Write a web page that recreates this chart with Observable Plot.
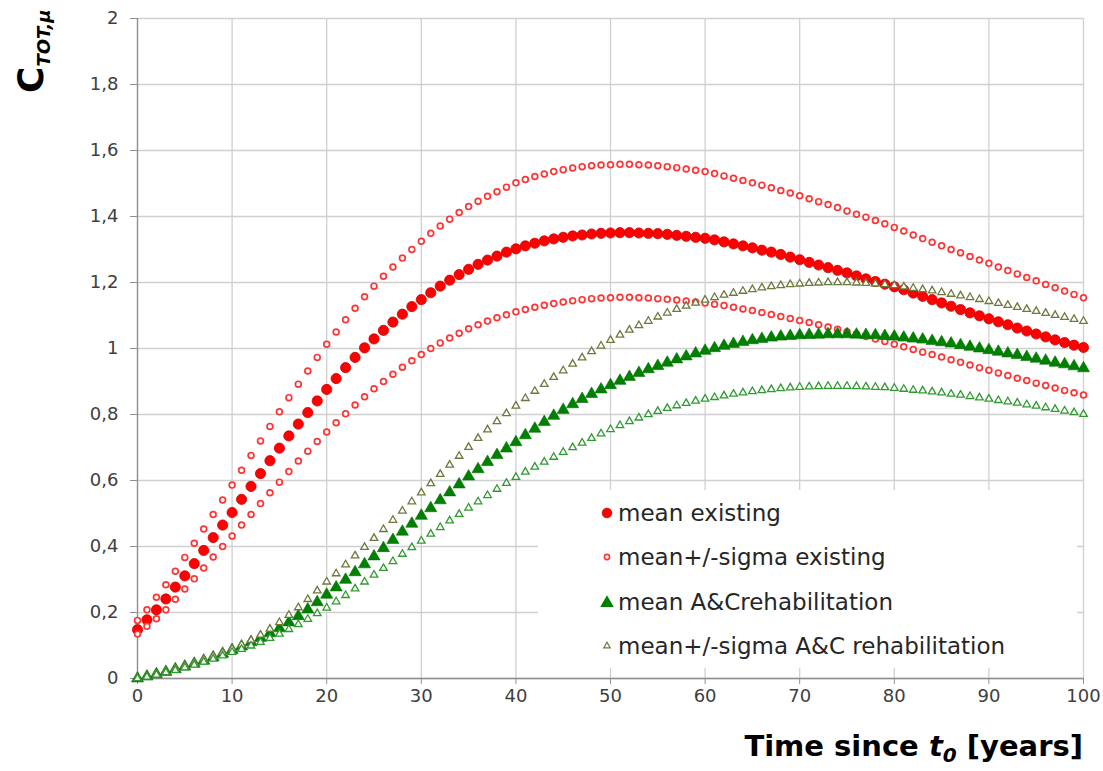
<!DOCTYPE html>
<html>
<head>
<meta charset="utf-8">
<script src="https://cdn.jsdelivr.net/npm/d3@7"></script>
<script src="https://cdn.jsdelivr.net/npm/@observablehq/plot@0.6"></script>
<style>
  html, body { margin: 0; padding: 0; background: #ffffff; overflow: hidden; }
  #chart { width: 1103px; height: 771px; }
</style>
</head>
<body>
<div id="chart"></div>
<script>
// ---------- data ----------
const years = Array.from({length: 101}, (_, i) => i);

const meanExisting = [
  0.148,0.178,0.208,0.241,0.277,0.311,0.348,0.388,0.427,0.465,
  0.503,0.543,0.582,0.621,0.660,0.698,0.735,0.771,0.806,0.841,
  0.876,0.909,0.942,0.973,1.002,1.029,1.055,1.080,1.104,1.127,
  1.148,1.169,1.189,1.207,1.224,1.240,1.255,1.268,1.280,1.292,
  1.302,1.311,1.319,1.326,1.332,1.337,1.341,1.344,1.347,1.349,
  1.350,1.351,1.351,1.350,1.349,1.348,1.346,1.343,1.340,1.337,
  1.334,1.329,1.323,1.317,1.311,1.305,1.298,1.292,1.285,1.277,
  1.269,1.261,1.253,1.245,1.237,1.229,1.220,1.211,1.203,1.195,
  1.187,1.178,1.168,1.158,1.148,1.138,1.128,1.118,1.108,1.099,
  1.090,1.081,1.072,1.062,1.053,1.044,1.035,1.026,1.018,1.010,
  1.003
];
const upperExisting = [
  0.176,0.208,0.246,0.284,0.325,0.367,0.410,0.453,0.497,0.541,
  0.586,0.631,0.676,0.720,0.764,0.808,0.851,0.892,0.932,0.973,
  1.013,1.050,1.087,1.122,1.157,1.189,1.219,1.247,1.274,1.300,
  1.325,1.349,1.371,1.392,1.412,1.430,1.446,1.461,1.475,1.489,
  1.502,1.512,1.521,1.529,1.536,1.542,1.547,1.551,1.554,1.556,
  1.557,1.558,1.558,1.557,1.556,1.554,1.551,1.548,1.544,1.540,
  1.536,1.530,1.523,1.516,1.509,1.502,1.495,1.487,1.479,1.471,
  1.463,1.454,1.445,1.436,1.427,1.417,1.407,1.398,1.388,1.378,
  1.367,1.356,1.344,1.333,1.322,1.311,1.300,1.290,1.279,1.268,
  1.258,1.247,1.236,1.226,1.215,1.205,1.194,1.184,1.174,1.164,
  1.154
];
const lowerExisting = [
  0.135,0.158,0.181,0.208,0.240,0.271,0.302,0.335,0.368,0.400,
  0.432,0.465,0.497,0.530,0.563,0.595,0.627,0.659,0.689,0.718,
  0.747,0.775,0.802,0.829,0.854,0.878,0.900,0.922,0.943,0.963,
  0.982,1.000,1.017,1.032,1.046,1.060,1.072,1.083,1.093,1.102,
  1.111,1.118,1.125,1.131,1.136,1.141,1.145,1.148,1.151,1.153,
  1.154,1.155,1.155,1.154,1.153,1.151,1.149,1.147,1.144,1.141,
  1.138,1.134,1.130,1.125,1.120,1.115,1.109,1.103,1.097,1.091,
  1.085,1.079,1.072,1.065,1.058,1.051,1.044,1.036,1.029,1.021,
  1.013,1.005,0.997,0.989,0.982,0.974,0.966,0.958,0.950,0.942,
  0.934,0.926,0.918,0.910,0.903,0.895,0.888,0.880,0.873,0.866,
  0.859
];
const meanAC = [
  0.000,0.006,0.013,0.020,0.028,0.036,0.045,0.054,0.064,0.075,
  0.086,0.097,0.110,0.123,0.137,0.152,0.170,0.189,0.209,0.231,
  0.254,0.276,0.299,0.322,0.346,0.370,0.395,0.420,0.445,0.469,
  0.493,0.516,0.540,0.564,0.588,0.612,0.634,0.656,0.677,0.697,
  0.716,0.737,0.757,0.777,0.796,0.814,0.831,0.847,0.862,0.876,
  0.889,0.902,0.914,0.926,0.937,0.947,0.957,0.967,0.976,0.985,
  0.993,1.001,1.008,1.014,1.020,1.025,1.029,1.033,1.036,1.038,
  1.040,1.041,1.042,1.043,1.043,1.043,1.042,1.041,1.040,1.038,
  1.036,1.033,1.030,1.027,1.023,1.019,1.015,1.010,1.005,1.000,
  0.995,0.990,0.985,0.980,0.974,0.969,0.963,0.957,0.952,0.946,
  0.940
];
const upperAC = [
  0.000,0.006,0.013,0.021,0.030,0.039,0.048,0.058,0.068,0.079,
  0.090,0.102,0.116,0.132,0.150,0.170,0.192,0.215,0.240,0.266,
  0.293,0.318,0.345,0.372,0.398,0.425,0.452,0.480,0.508,0.536,
  0.563,0.591,0.619,0.647,0.674,0.701,0.728,0.754,0.779,0.803,
  0.826,0.849,0.871,0.892,0.913,0.933,0.953,0.972,0.991,1.008,
  1.025,1.041,1.056,1.070,1.083,1.096,1.108,1.119,1.129,1.138,
  1.147,1.155,1.162,1.168,1.174,1.179,1.184,1.188,1.191,1.194,
  1.196,1.198,1.199,1.200,1.200,1.200,1.199,1.198,1.196,1.194,
  1.191,1.187,1.183,1.179,1.175,1.170,1.165,1.160,1.155,1.149,
  1.143,1.137,1.131,1.125,1.119,1.113,1.107,1.101,1.095,1.089,
  1.083
];
const lowerAC = [
  0.000,0.005,0.011,0.018,0.025,0.033,0.041,0.050,0.059,0.069,
  0.080,0.089,0.099,0.110,0.122,0.135,0.149,0.164,0.180,0.197,
  0.214,0.233,0.252,0.272,0.293,0.314,0.334,0.355,0.377,0.397,
  0.417,0.438,0.458,0.478,0.498,0.517,0.536,0.555,0.574,0.592,
  0.610,0.626,0.641,0.656,0.671,0.686,0.700,0.714,0.728,0.742,
  0.755,0.767,0.779,0.790,0.800,0.810,0.819,0.827,0.834,0.841,
  0.847,0.852,0.857,0.862,0.866,0.870,0.873,0.876,0.879,0.881,
  0.883,0.884,0.885,0.886,0.886,0.886,0.885,0.884,0.883,0.882,
  0.880,0.877,0.874,0.872,0.869,0.866,0.862,0.859,0.855,0.851,
  0.847,0.843,0.839,0.835,0.830,0.826,0.821,0.816,0.811,0.806,
  0.801
];

const xTicks = [0, 10, 20, 30, 40, 50, 60, 70, 80, 90, 100];
const yTicks = [0, 0.2, 0.4, 0.6, 0.8, 1, 1.2, 1.4, 1.6, 1.8, 2];
const yTickLabels = ["0", "0,2", "0,4", "0,6", "0,8", "1", "1,2", "1,4", "1,6", "1,8", "2"];

const legendLabels = [
  "mean existing",
  "mean+/-sigma existing",
  "mean A&Crehabilitation",
  "mean+/-sigma A&C rehabilitation"
];

// ---------- build ----------
const rows = arr => years.map((t, i) => ({t, v: arr[i]}));
const FONT = "DejaVu Sans";

const chart = Plot.plot({
  width: 1103,
  height: 771,
  marginLeft: 137,
  marginRight: 20,
  marginTop: 18,
  marginBottom: 93,
  style: {fontFamily: FONT, fontSize: "18px", color: "#404040", background: "#ffffff"},
  x: {domain: [0, 100], label: null},
  y: {domain: [0, 2], label: null},
  marks: [
    Plot.gridX(xTicks, {stroke: "#d0d0d0", strokeOpacity: 1, strokeWidth: 1.3}),
    Plot.gridY(yTicks, {stroke: "#d0d0d0", strokeOpacity: 1, strokeWidth: 1.3}),
    Plot.ruleX([0], {stroke: "#8f8f8f", strokeWidth: 1.3}),
    Plot.ruleY([0], {stroke: "#8f8f8f", strokeWidth: 1.3}),
    Plot.axisX(xTicks, {tickSize: 6, tickPadding: 5, stroke: "#8f8f8f", fill: "#404040",
      tickFormat: d => String(d), label: null}),
    Plot.axisY(yTicks, {tickSize: 7, tickPadding: 12, stroke: "#8f8f8f", fill: "#404040",
      tickFormat: d => yTickLabels[yTicks.findIndex(v => Math.abs(v - d) < 1e-9)], label: null}),
    Plot.dot(rows(meanExisting), {x: "t", y: "v", r: 5.1, fill: "#ff0000", stroke: "#d00000", strokeWidth: 0.8}),
    Plot.dot(rows(upperExisting), {x: "t", y: "v", r: 2.9, fill: "#ffffff", stroke: "#ff3535", strokeWidth: 1.7}),
    Plot.dot(rows(lowerExisting), {x: "t", y: "v", r: 2.9, fill: "#ffffff", stroke: "#ff3535", strokeWidth: 1.7}),
    Plot.dot(rows(meanAC), {x: "t", y: "v", r: 4.5, symbol: "triangle", fill: "#008000", stroke: "#007000", strokeWidth: 0.6}),
    Plot.dot(rows(upperAC), {x: "t", y: "v", r: 2.8, symbol: "triangle", fill: "#ffffff", stroke: "#6b7a3c", strokeWidth: 1.3}),
    Plot.dot(rows(lowerAC), {x: "t", y: "v", r: 2.8, symbol: "triangle", fill: "#ffffff", stroke: "#2f9a2f", strokeWidth: 1.3})
  ]
});

document.getElementById("chart").appendChild(chart);

// ---------- legend, axis titles ----------
const svgEl = chart.tagName.toLowerCase() === "svg" ? chart : chart.querySelector("svg");
const svg = d3.select(svgEl);

const lg = svg.append("g").attr("class", "legend").attr("text-anchor", "start");
lg.append("rect").attr("x", 538).attr("y", 490).attr("width", 539).attr("height", 178)
  .attr("fill", "#ffffff").attr("stroke", "none").style("fill", "#ffffff");
const rowY = [513, 557, 602, 646];
const mx = 607;
lg.append("circle").attr("cx", mx).attr("cy", rowY[0]).attr("r", 4.8).attr("fill", "#ff0000").attr("stroke", "#d00000").attr("stroke-width", 0.8);
lg.append("circle").attr("cx", mx).attr("cy", rowY[1]).attr("r", 2.6).attr("fill", "#ffffff").attr("stroke", "#ff3535").attr("stroke-width", 1.6);
lg.append("path").attr("transform", `translate(${mx},${rowY[2] + 1})`)
  .attr("d", d3.symbol(d3.symbolTriangle, 80)()).attr("fill", "#008000");
lg.append("path").attr("transform", `translate(${mx},${rowY[3]})`)
  .attr("d", d3.symbol(d3.symbolTriangle, 18)()).attr("fill", "#ffffff").attr("stroke", "#6b7a3c").attr("stroke-width", 1.2);
legendLabels.forEach((lab, i) => {
  lg.append("text").attr("x", 618).attr("y", rowY[i]).attr("dy", "0.36em").attr("text-anchor", "start")
    .attr("font-family", FONT).attr("font-size", 23).attr("fill", "#262626").text(lab);
});

// x axis title: Time since t0 [years]
const xt = svg.append("text").attr("x", 1083).attr("y", 756).attr("text-anchor", "end")
  .attr("font-family", FONT).attr("font-weight", "bold").attr("font-size", 29).attr("fill", "#000000");
xt.append("tspan").text("Time since ");
xt.append("tspan").attr("font-style", "italic").text("t");
xt.append("tspan").attr("font-style", "italic").attr("font-size", 20).attr("dy", 6).text("0");
xt.append("tspan").attr("dy", -6).text(" [years]");

// y axis title: C_TOT,μ
const yt = svg.append("text").attr("transform", "translate(43,93) rotate(-90)").attr("text-anchor", "start")
  .attr("font-family", FONT).attr("font-weight", "bold").attr("fill", "#000000");
yt.append("tspan").attr("font-size", 36).text("C");
yt.append("tspan").attr("font-size", 18).attr("font-style", "italic").attr("dy", 7).text("TOT,μ");
</script>
</body>
</html>
